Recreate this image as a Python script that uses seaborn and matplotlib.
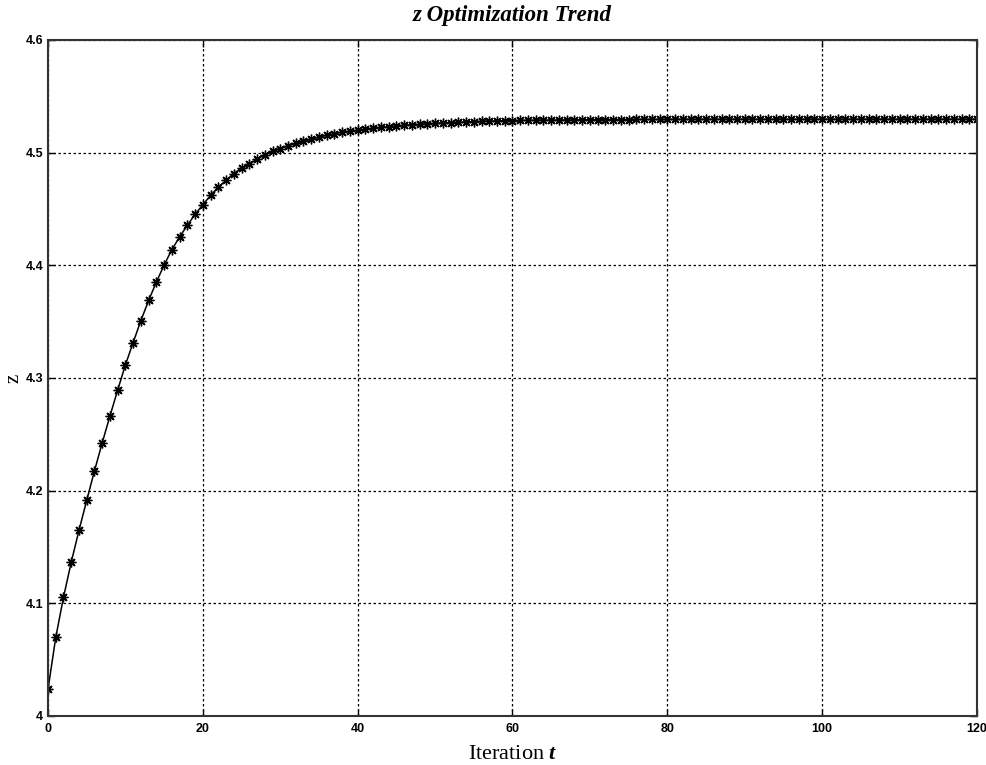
import matplotlib
matplotlib.use("Agg")
import matplotlib.pyplot as plt
import seaborn as sns
import pandas as pd

iterations = list(range(0, 121))
z_values = [
    4.0237, 4.0697, 4.1053, 4.1365, 4.1647, 4.1914, 4.2175, 4.2424, 4.2662, 4.2893,
    4.3116, 4.3315, 4.3510, 4.3688, 4.3852, 4.4003, 4.4139, 4.4253, 4.4355, 4.4453,
    4.4538, 4.4621, 4.4695, 4.4754, 4.4814, 4.4864, 4.4902, 4.4941, 4.4982, 4.5012,
    4.5036, 4.5059, 4.5084, 4.5100, 4.5120, 4.5139, 4.5154, 4.5168, 4.5182, 4.5191,
    4.5199, 4.5208, 4.5217, 4.5225, 4.5231, 4.5237, 4.5243, 4.5248, 4.5252, 4.5256,
    4.5261, 4.5264, 4.5267, 4.5270, 4.5273, 4.5276, 4.5278, 4.5280, 4.5282, 4.5284,
    4.5285, 4.5286, 4.5287, 4.5288, 4.5289, 4.5289, 4.5290, 4.5291, 4.5291, 4.5292,
    4.5292, 4.5293, 4.5293, 4.5294, 4.5294, 4.5294, 4.5295, 4.5295, 4.5295, 4.5295,
    4.5296, 4.5296, 4.5296, 4.5296, 4.5296, 4.5296, 4.5296, 4.5297, 4.5297, 4.5297,
    4.5297, 4.5297, 4.5297, 4.5297, 4.5297, 4.5297, 4.5297, 4.5297, 4.5297, 4.5297,
    4.5297, 4.5297, 4.5297, 4.5297, 4.5297, 4.5297, 4.5297, 4.5297, 4.5297, 4.5297,
    4.5297, 4.5297, 4.5297, 4.5297, 4.5297, 4.5297, 4.5297, 4.5297, 4.5297, 4.5297,
    4.5297,
]
x_ticks = [0, 20, 40, 60, 80, 100, 120]
y_ticks = [4.0, 4.1, 4.2, 4.3, 4.4, 4.5, 4.6]
y_tick_labels = ["4", "4.1", "4.2", "4.3", "4.4", "4.5", "4.6"]
x_tick_labels = ["0", "20", "40", "60", "80", "100", "120"]

df = pd.DataFrame({"t": iterations, "z": z_values})

sns.set_style("white")
plt.rcParams["font.family"] = ["Liberation Sans", "DejaVu Sans"]
plt.rcParams["text.color"] = "black"
plt.rcParams["axes.labelcolor"] = "black"
plt.rcParams["mathtext.fontset"] = "custom"
plt.rcParams["mathtext.it"] = "Liberation Serif:italic:bold"
plt.rcParams["mathtext.rm"] = "Liberation Serif"

fig = plt.figure(figsize=(9.87, 7.65), dpi=100)
ax = fig.add_axes([48 / 987, 1 - 716 / 765, (977 - 48) / 987, (716 - 40) / 765])

sns.lineplot(data=df, x="t", y="z", ax=ax, color="black", linewidth=1.1,
             marker=(8, 2, 0), markersize=7, markeredgecolor="black",
             markerfacecolor="black", markeredgewidth=1.0)

ax.set_xlim(0, 120)
ax.set_ylim(4.0, 4.6)
ax.set_xticks(x_ticks)
ax.set_xticklabels(x_tick_labels, fontsize=9, fontweight="bold", color="#111111")
ax.set_yticks(y_ticks)
ax.set_yticklabels(y_tick_labels, fontsize=9, fontweight="bold", color="#111111")
ax.tick_params(axis="x", pad=5)
ax.tick_params(direction="in", length=5, width=1, top=True, right=True,
               bottom=True, left=True, colors="black")
ax.grid(True, color="black", linestyle=(0, (2, 2)), linewidth=0.9)

for s in ax.spines.values():
    s.set_color("#333333")
    s.set_linewidth(1.5)

ax.set_xlabel("Iteration $\\mathit{t}$", fontsize=16, family="Liberation Serif",
              labelpad=7, color="black")
ax.set_ylabel("z", fontsize=15, family="Liberation Serif", labelpad=1,
              color="black")
ax.set_title("z Optimization Trend", fontsize=16.5, family="Liberation Serif",
             fontweight="bold", style="italic", pad=14, color="black")

fig.savefig("out.png", dpi=100)
